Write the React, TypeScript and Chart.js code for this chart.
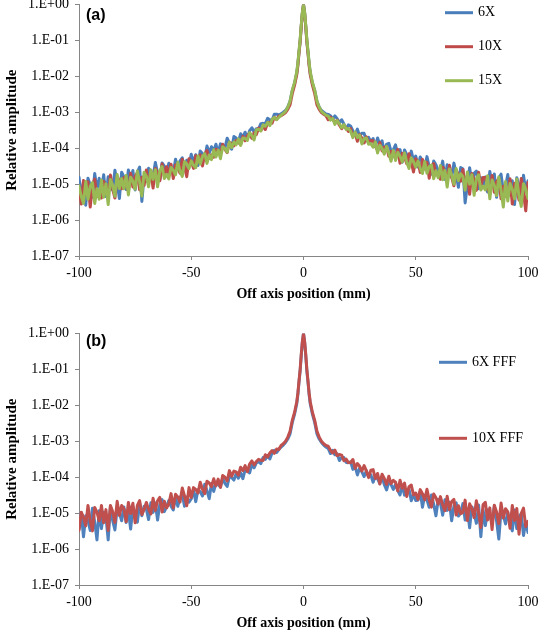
import React, { useEffect, useRef } from "react";
import { Chart, registerables } from "chart.js";

Chart.register(...registerables);

// Off-axis positions (mm), shared by every series
const positions = [
  -100, -99, -98, -97, -96, -95, -94, -93, -92, -91, -90, -89, -88, -87, -86, -85, -84, -83, -82, -81,
  -80, -79, -78, -77, -76, -75, -74, -73, -72, -71, -70, -69, -68, -67, -66, -65, -64, -63, -62, -61,
  -60, -59, -58, -57, -56, -55, -54, -53, -52, -51, -50, -49, -48, -47, -46, -45, -44, -43, -42, -41,
  -40, -39, -38, -37, -36, -35, -34, -33, -32, -31, -30, -29, -28, -27, -26, -25, -24, -23, -22, -21,
  -20, -19, -18, -17, -16, -15, -14, -13, -12, -11,
  -10, -9, -8, -7, -6, -5, -4, -3, -2.5, -2, -1.5, -1, -0.5, 0, 0.5, 1, 1.5, 2, 2.5, 3, 4, 5, 6, 7, 8, 9, 10,
  11, 12, 13, 14, 15, 16, 17, 18, 19, 20, 21, 22, 23, 24, 25, 26, 27, 28, 29, 30,
  31, 32, 33, 34, 35, 36, 37, 38, 39, 40, 41, 42, 43, 44, 45, 46, 47, 48, 49, 50,
  51, 52, 53, 54, 55, 56, 57, 58, 59, 60, 61, 62, 63, 64, 65, 66, 67, 68, 69, 70,
  71, 72, 73, 74, 75, 76, 77, 78, 79, 80, 81, 82, 83, 84, 85, 86, 87, 88, 89, 90,
  91, 92, 93, 94, 95, 96, 97, 98, 99, 100,
];

// Panel (a)
const values6X = [
  15.6e-6, 4.4e-6, 11.1e-6, 2.6e-6, 14.6e-6, 9.4e-6, 4.3e-6, 19.7e-6, 7.1e-6, 14.5e-6,
  7.0e-6, 18.2e-6, 4.5e-6, 16.0e-6, 12.1e-6, 6.8e-6, 24.4e-6, 10.9e-6, 4.0e-6, 21.5e-6,
  15.8e-6, 7.1e-6, 24.7e-6, 12.1e-6, 23.9e-6, 6.9e-6, 21.6e-6, 29.6e-6, 3.3e-6, 16.8e-6,
  11.9e-6, 27.6e-6, 22.7e-6, 15.7e-6, 40.1e-6, 20.4e-6, 13.1e-6, 38.9e-6, 31.6e-6, 22.0e-6,
  38.0e-6, 26.1e-6, 20.6e-6, 49.5e-6, 26.0e-6, 44.3e-6, 54.1e-6, 25.3e-6, 46.2e-6, 32.4e-6,
  67.7e-6, 38.7e-6, 65.7e-6, 32.9e-6, 83.0e-6, 71.2e-6, 51.1e-6, 115e-6, 73.7e-6, 110e-6,
  81.8e-6, 129e-6, 71.8e-6, 132e-6, 124e-6, 100e-6, 190e-6, 139e-6, 93.6e-6, 212e-6,
  193e-6, 152e-6, 251e-6, 203e-6, 278e-6, 185e-6, 306e-6, 369e-6, 282e-6, 349e-6,
  345e-6, 482e-6, 490e-6, 480e-6, 674e-6, 616e-6, 598e-6, 874e-6, 882e-6, 837e-6,
  9.0e-4, 1.0e-3, 1.12e-3, 1.4e-3, 2.0e-3, 4.0e-3, 6.3e-3, 1.25e-2, 2.2e-2, 4.8e-2, 9.6e-2, 2.5e-1, 5.9e-1, 1,
  5.9e-1, 2.5e-1, 9.6e-2, 4.8e-2, 2.2e-2, 1.25e-2, 6.3e-3, 4.0e-3, 2.0e-3, 1.4e-3, 1.12e-3, 1.0e-3, 9.0e-4,
  870e-6, 800e-6, 647e-6, 792e-6, 661e-6, 513e-6, 618e-6, 470e-6, 342e-6, 444e-6,
  414e-6, 301e-6, 243e-6, 339e-6, 221e-6, 260e-6, 259e-6, 161e-6, 200e-6, 151e-6,
  185e-6, 112e-6, 193e-6, 126e-6, 160e-6, 77.9e-6, 127e-6, 137e-6, 81.3e-6, 89.3e-6,
  124e-6, 62.1e-6, 91.4e-6, 40.3e-6, 89.4e-6, 66.1e-6, 41.7e-6, 82.8e-6, 45.9e-6, 60.5e-6,
  30.1e-6, 57.0e-6, 43.7e-6, 29.2e-6, 58.3e-6, 29.8e-6, 19.0e-6, 44.0e-6, 34.5e-6, 23.3e-6,
  22.0e-6, 43.7e-6, 13.5e-6, 34.8e-6, 25.9e-6, 15.3e-6, 38.4e-6, 19.3e-6, 8.2e-6, 28.8e-6,
  26.8e-6, 3.0e-6, 9.9e-6, 28.5e-6, 10.8e-6, 19.9e-6, 23.1e-6, 7.4e-6, 15.1e-6, 8.3e-6,
  15.7e-6, 6.0e-6, 22.5e-6, 9.6e-6, 19.2e-6, 4.3e-6, 14.4e-6, 19.0e-6, 6.5e-6, 8.6e-6,
  18.4e-6, 5.0e-6, 12.4e-6, 2.7e-6, 15.0e-6, 9.2e-6, 4.0e-6, 17.7e-6, 6.2e-6, 12.3e-6,
];

const values10X = [
  7.8e-6, 2.8e-6, 12.6e-6, 5.1e-6, 11.6e-6, 2.3e-6, 9.4e-6, 13.8e-6, 4.5e-6, 6.5e-6,
  4.1e-6, 11.8e-6, 9.0e-6, 5.5e-6, 17.8e-6, 7.3e-6, 4.1e-6, 16.1e-6, 12.2e-6, 7.4e-6,
  15.2e-6, 9.0e-6, 6.5e-6, 20.2e-6, 8.3e-6, 16.4e-6, 20.5e-6, 7.0e-6, 15.5e-6, 9.2e-6,
  24.6e-6, 10.7e-6, 21.1e-6, 7.8e-6, 27.2e-6, 20.5e-6, 12.4e-6, 36.1e-6, 18.2e-6, 30.4e-6,
  18.5e-6, 35.9e-6, 14.3e-6, 34.2e-6, 29.0e-6, 20.2e-6, 49.2e-6, 30.0e-6, 16.1e-6, 50.9e-6,
  42.6e-6, 27.4e-6, 61.6e-6, 41.5e-6, 65.7e-6, 31.9e-6, 67.8e-6, 85.7e-6, 51.8e-6, 65.2e-6,
  56.2e-6, 93.6e-6, 87.2e-6, 72.2e-6, 128e-6, 91.9e-6, 75.2e-6, 146e-6, 136e-6, 116e-6,
  164e-6, 141e-6, 131e-6, 213e-6, 161e-6, 223e-6, 261e-6, 188e-6, 267e-6, 239e-6,
  361e-6, 309e-6, 407e-6, 330e-6, 511e-6, 523e-6, 496e-6, 723e-6, 632e-6, 784e-6,
  8.0e-4, 8.8e-4, 9.8e-4, 1.2e-3, 1.6e-3, 3.3e-3, 5.6e-3, 1.1e-2, 2.0e-2, 4.4e-2, 9.0e-2, 2.4e-1, 5.7e-1, 1,
  5.7e-1, 2.4e-1, 9.0e-2, 4.4e-2, 2.0e-2, 1.1e-2, 5.6e-3, 3.3e-3, 1.6e-3, 1.2e-3, 9.8e-4, 8.8e-4, 8.0e-4,
  620e-6, 732e-6, 630e-6, 519e-6, 600e-6, 433e-6, 347e-6, 426e-6, 364e-6, 292e-6,
  351e-6, 216e-6, 264e-6, 155e-6, 239e-6, 192e-6, 140e-6, 206e-6, 141e-6, 164e-6,
  160e-6, 113e-6, 88.2e-6, 144e-6, 83.8e-6, 107e-6, 110e-6, 59.8e-6, 81.9e-6, 58.5e-6,
  58.3e-6, 92.5e-6, 38.3e-6, 71.8e-6, 56.4e-6, 37.1e-6, 69.9e-6, 41.1e-6, 21.7e-6, 50.5e-6,
  41.5e-6, 21.2e-6, 48.8e-6, 26.4e-6, 40.2e-6, 14.6e-6, 31.9e-6, 37.3e-6, 18.1e-6, 21.2e-6,
  13.6e-6, 29.5e-6, 22.1e-6, 14.4e-6, 33.4e-6, 15.4e-6, 9.0e-6, 24.9e-6, 18.6e-6, 12.0e-6,
  25.4e-6, 8.9e-6, 17.8e-6, 5.2e-6, 19.6e-6, 13.2e-6, 6.7e-6, 21.3e-6, 9.0e-6, 15.2e-6,
  15.4e-6, 8.0e-6, 5.2e-6, 17.3e-6, 5.9e-6, 11.7e-6, 14.1e-6, 3.9e-6, 8.7e-6, 4.6e-6,
  5.2e-6, 14.2e-6, 2.8e-6, 10.6e-6, 7.5e-6, 3.6e-6, 14.3e-6, 5.6e-6, 1.8e-6, 11.0e-6,
];

const values15X = [
  9.0e-6, 4.6e-6, 2.9e-6, 11.8e-6, 3.8e-6, 8.7e-6, 11.0e-6, 2.9e-6, 7.4e-6, 3.8e-6,
  13.0e-6, 4.3e-6, 10.2e-6, 2.7e-6, 13.4e-6, 9.3e-6, 4.6e-6, 18.4e-6, 7.5e-6, 14.2e-6,
  7.4e-6, 17.4e-6, 5.0e-6, 15.5e-6, 12.2e-6, 7.2e-6, 23.0e-6, 11.4e-6, 4.7e-6, 21.5e-6,
  16.5e-6, 8.4e-6, 24.9e-6, 13.6e-6, 25.1e-6, 8.4e-6, 23.5e-6, 30.8e-6, 14.3e-6, 18.8e-6,
  13.9e-6, 29.0e-6, 24.5e-6, 18.2e-6, 40.7e-6, 23.0e-6, 16.4e-6, 42.2e-6, 36.5e-6, 27.1e-6,
  44.4e-6, 33.6e-6, 28.8e-6, 60.8e-6, 36.2e-6, 58.7e-6, 70.2e-6, 37.7e-6, 64.3e-6, 48.2e-6,
  90.6e-6, 57.0e-6, 88.1e-6, 51.0e-6, 109e-6, 98.0e-6, 76.8e-6, 148e-6, 104e-6, 148e-6,
  124e-6, 181e-6, 119e-6, 192e-6, 186e-6, 164e-6, 269e-6, 223e-6, 169e-6, 328e-6,
  336e-6, 301e-6, 446e-6, 406e-6, 522e-6, 424e-6, 623e-6, 726e-6, 618e-6, 713e-6,
  8.3e-4, 9.3e-4, 1.06e-3, 1.38e-3, 2.0e-3, 4.1e-3, 6.7e-3, 1.35e-2, 2.4e-2, 5.2e-2, 1.04e-1, 2.7e-1, 6.1e-1, 1,
  6.1e-1, 2.7e-1, 1.04e-1, 5.2e-2, 2.4e-2, 1.35e-2, 6.7e-3, 4.1e-3, 2.0e-3, 1.38e-3, 1.06e-3, 9.3e-4, 8.3e-4,
  780e-6, 604e-6, 675e-6, 460e-6, 587e-6, 475e-6, 371e-6, 454e-6, 336e-6, 352e-6,
  295e-6, 196e-6, 283e-6, 197e-6, 232e-6, 131e-6, 185e-6, 192e-6, 128e-6, 134e-6,
  107e-6, 150e-6, 73.8e-6, 121e-6, 98.0e-6, 68.1e-6, 112e-6, 72.8e-6, 43.3e-6, 86.4e-6,
  45.6e-6, 76.5e-6, 59.7e-6, 41.7e-6, 74.0e-6, 40.8e-6, 27.2e-6, 53.9e-6, 42.3e-6, 29.6e-6,
  44.1e-6, 27.6e-6, 19.7e-6, 42.6e-6, 20.1e-6, 30.9e-6, 33.8e-6, 14.2e-6, 23.5e-6, 15.0e-6,
  33.0e-6, 13.3e-6, 24.1e-6, 8.3e-6, 26.4e-6, 18.0e-6, 9.9e-6, 27.1e-6, 12.5e-6, 19.5e-6,
  16.3e-6, 6.8e-6, 21.8e-6, 10.0e-6, 18.2e-6, 4.9e-6, 14.1e-6, 18.1e-6, 6.9e-6, 8.8e-6,
  6.9e-6, 17.1e-6, 3.9e-6, 13.0e-6, 9.3e-6, 4.8e-6, 15.9e-6, 6.8e-6, 2.3e-6, 11.8e-6,
  3.4e-6, 10.4e-6, 7.2e-6, 3.9e-6, 13.9e-6, 4.7e-6, 2.4e-6, 10.3e-6, 7.3e-6, 4.0e-6,
];

// Panel (b)
const values6XFFF = [
  3.6e-6, 10.4e-6, 2.2e-6, 8.5e-6, 6.3e-6, 3.3e-6, 13.7e-6, 5.6e-6, 1.8e-6, 11.7e-6,
  3.7e-6, 10.6e-6, 7.9e-6, 1.8e-6, 15.5e-6, 6.2e-6, 3.4e-6, 13.4e-6, 10.1e-6, 6.1e-6,
  14.8e-6, 5.5e-6, 11.6e-6, 3.6e-6, 14.5e-6, 10.3e-6, 5.6e-6, 18.8e-6, 8.5e-6, 15.4e-6,
  13.0e-6, 6.6e-6, 19.3e-6, 10.5e-6, 19.2e-6, 6.4e-6, 17.8e-6, 23.7e-6, 11.0e-6, 14.9e-6,
  22.4e-6, 15.6e-6, 12.3e-6, 29.6e-6, 15.5e-6, 27.2e-6, 33.6e-6, 15.6e-6, 28.2e-6, 20.0e-6,
  25.0e-6, 44.4e-6, 20.9e-6, 44.5e-6, 39.6e-6, 30.0e-6, 63.8e-6, 42.3e-6, 25.2e-6, 66.8e-6,
  40.1e-6, 67.3e-6, 62.5e-6, 53.0e-6, 93.8e-6, 67.3e-6, 55.1e-6, 107e-6, 98.2e-6, 82.8e-6,
  125e-6, 93.2e-6, 132e-6, 90.9e-6, 162e-6, 155e-6, 131e-6, 227e-6, 182e-6, 250e-6,
  271e-6, 239e-6, 350e-6, 314e-6, 402e-6, 321e-6, 473e-6, 561e-6, 486e-6, 586e-6,
  6.9e-4, 7.8e-4, 9.2e-4, 1.15e-3, 1.6e-3, 3.3e-3, 5.6e-3, 1.1e-2, 2.0e-2, 4.4e-2, 9e-2, 2.4e-1, 5.7e-1, 1,
  5.7e-1, 2.4e-1, 9e-2, 4.4e-2, 2.0e-2, 1.1e-2, 5.6e-3, 3.3e-3, 1.6e-3, 1.15e-3, 9.2e-4, 7.8e-4, 6.9e-4,
  628e-6, 454e-6, 561e-6, 420e-6, 444e-6, 291e-6, 354e-6, 350e-6, 256e-6, 253e-6,
  267e-6, 165e-6, 199e-6, 115e-6, 177e-6, 141e-6, 104e-6, 151e-6, 103e-6, 117e-6,
  72.4e-6, 107e-6, 89.3e-6, 66.3e-6, 102e-6, 61.9e-6, 44.0e-6, 75.0e-6, 61.7e-6, 45.8e-6,
  63.3e-6, 42.4e-6, 32.0e-6, 59.9e-6, 31.6e-6, 44.5e-6, 46.9e-6, 22.2e-6, 33.4e-6, 22.4e-6,
  22.8e-6, 39.9e-6, 14.6e-6, 31.4e-6, 23.6e-6, 14.5e-6, 31.8e-6, 17.4e-6, 8.4e-6, 24.0e-6,
  19.0e-6, 8.7e-6, 23.7e-6, 11.9e-6, 20.1e-6, 6.1e-6, 15.6e-6, 19.3e-6, 8.3e-6, 10.2e-6,
  18.4e-6, 6.4e-6, 13.1e-6, 3.9e-6, 14.9e-6, 10.1e-6, 5.2e-6, 16.7e-6, 2.2e-6, 12.3e-6,
  4.5e-6, 12.4e-6, 8.9e-6, 5.1e-6, 15.9e-6, 6.1e-6, 1.9e-6, 11.9e-6, 8.6e-6, 5.0e-6,
  10.4e-6, 5.1e-6, 3.2e-6, 12.2e-6, 3.7e-6, 7.9e-6, 9.6e-6, 2.4e-6, 5.8e-6, 2.9e-6,
];

const values10XFFF = [
  3.3e-6, 10.6e-6, 7.7e-6, 4.4e-6, 16.4e-6, 6.0e-6, 3.2e-6, 14.4e-6, 10.6e-6, 6.1e-6,
  16.4e-6, 5.4e-6, 12.5e-6, 3.3e-6, 16.3e-6, 11.0e-6, 5.5e-6, 21.3e-6, 8.6e-6, 16.3e-6,
  13.2e-6, 5.8e-6, 19.8e-6, 9.7e-6, 18.8e-6, 5.4e-6, 16.5e-6, 22.4e-6, 9.1e-6, 12.6e-6,
  19.7e-6, 12.7e-6, 9.5e-6, 25.9e-6, 11.9e-6, 22.1e-6, 27.3e-6, 10.8e-6, 21.4e-6, 14.0e-6,
  17.8e-6, 34.9e-6, 14.0e-6, 33.4e-6, 28.2e-6, 20.3e-6, 49.9e-6, 30.2e-6, 16.0e-6, 51.2e-6,
  27.3e-6, 51.3e-6, 45.5e-6, 36.1e-6, 72.6e-6, 46.0e-6, 34.7e-6, 77.5e-6, 69.0e-6, 54.5e-6,
  90.0e-6, 57.4e-6, 88.6e-6, 52.0e-6, 111e-6, 100e-6, 78.3e-6, 152e-6, 106e-6, 148e-6,
  141e-6, 113e-6, 189e-6, 153e-6, 209e-6, 141e-6, 232e-6, 284e-6, 220e-6, 273e-6,
  315e-6, 295e-6, 293e-6, 422e-6, 362e-6, 470e-6, 549e-6, 460e-6, 604e-6, 590e-6,
  7.6e-4, 8.5e-4, 1.0e-3, 1.3e-3, 1.9e-3, 3.8e-3, 6.3e-3, 1.25e-2, 2.2e-2, 4.8e-2, 9.8e-2, 2.6e-1, 6e-1, 1,
  6e-1, 2.6e-1, 9.8e-2, 4.8e-2, 2.2e-2, 1.25e-2, 6.3e-3, 3.8e-3, 1.9e-3, 1.3e-3, 1.0e-3, 8.5e-4, 7.6e-4,
  729e-6, 562e-6, 471e-6, 564e-6, 399e-6, 426e-6, 411e-6, 286e-6, 317e-6, 255e-6,
  253e-6, 311e-6, 176e-6, 240e-6, 201e-6, 148e-6, 210e-6, 149e-6, 97.2e-6, 157e-6,
  162e-6, 91.6e-6, 127e-6, 64.9e-6, 121e-6, 92.4e-6, 62.7e-6, 106e-6, 66.1e-6, 81.8e-6,
  72.7e-6, 41.3e-6, 82.2e-6, 49.0e-6, 68.8e-6, 29.0e-6, 54.4e-6, 60.5e-6, 32.2e-6, 36.2e-6,
  24.0e-6, 45.0e-6, 34.8e-6, 23.4e-6, 46.3e-6, 23.0e-6, 14.7e-6, 34.1e-6, 26.6e-6, 17.8e-6,
  28.8e-6, 16.8e-6, 11.7e-6, 29.5e-6, 12.5e-6, 21.0e-6, 24.0e-6, 8.8e-6, 16.1e-6, 9.6e-6,
  10.5e-6, 23.0e-6, 6.2e-6, 18.1e-6, 13.4e-6, 7.5e-6, 22.2e-6, 10.4e-6, 4.0e-6, 17.4e-6,
  20.1e-6, 6.4e-6, 14.0e-6, 3.5e-6, 16.6e-6, 10.8e-6, 5.1e-6, 19.0e-6, 7.3e-6, 13.3e-6,
  10.8e-6, 3.8e-6, 16.2e-6, 6.2e-6, 13.5e-6, 2.6e-6, 9.9e-6, 13.8e-6, 4.2e-6, 5.9e-6,
];

const yTickValues = [1e-7, 1e-6, 1e-5, 1e-4, 1e-3, 1e-2, 1e-1, 1];
const yTickLabels = ["1.E-07", "1.E-06", "1.E-05", "1.E-04", "1.E-03", "1.E-02", "1.E-01", "1.E+00"];
const xTickValues = [-100, -50, 0, 50, 100];
const xTickLabels = ["-100", "-50", "0", "50", "100"];

const SERIF = '"Liberation Serif", "Times New Roman", serif';
const SANS = '"Liberation Sans", Arial, sans-serif';
const AXIS_GRAY = "#868686";

type SeriesDef = { label: string; values: number[]; color: string; order: number };
type PanelDef = {
  tag: string;
  tagY: number;
  series: SeriesDef[];
  legendX: number;
  legendYs: number[];
};

const overlayPlugin = {
  id: "overlay",
  afterDatasetsDraw(chart: any, _args: any, opts: any) {
    const ctx = chart.ctx;
    ctx.save();
    ctx.textBaseline = "middle";
    ctx.textAlign = "left";
    ctx.fillStyle = "#000";
    ctx.font = `bold 16px ${SANS}`;
    ctx.fillText(opts.tag, 86, opts.tagY);
    chart.data.datasets.forEach((ds: any, i: number) => {
      const y = opts.legendYs[i];
      ctx.strokeStyle = ds.borderColor;
      ctx.lineWidth = 3;
      ctx.beginPath();
      ctx.moveTo(opts.legendX, y);
      ctx.lineTo(opts.legendX + 28, y);
      ctx.stroke();
      ctx.font = `14px ${SERIF}`;
      ctx.fillStyle = "#000";
      ctx.fillText(ds.label, opts.legendX + 33, y);
    });
    ctx.restore();
  },
};

function buildChart(canvas: HTMLCanvasElement, panel: PanelDef) {
  return new Chart(canvas, {
    type: "line",
    data: {
      datasets: panel.series.map((s) => ({
        label: s.label,
        data: positions.map((x, i) => ({ x, y: s.values[i] })),
        borderColor: s.color,
        backgroundColor: s.color,
        borderWidth: 3,
        pointRadius: 0,
        tension: 0,
        borderJoinStyle: "round" as const,
        borderCapStyle: "round" as const,
        order: s.order,
      })),
    },
    options: {
      responsive: false,
      devicePixelRatio: 1,
      animation: false,
      layout: { padding: { left: 0, right: 12, top: 13.3, bottom: 0 } },
      plugins: {
        legend: { display: false },
        tooltip: { enabled: false },
        overlay: { tag: panel.tag, tagY: panel.tagY, legendX: panel.legendX, legendYs: panel.legendYs },
      } as any,
      scales: {
        x: {
          type: "linear",
          min: -100,
          max: 100,
          afterBuildTicks: (axis: any) => {
            axis.ticks = xTickValues.map((v) => ({ value: v }));
          },
          afterFit: (axis: any) => {
            axis.height = 54;
            axis.paddingLeft = 0;
            axis.paddingRight = 0;
          },
          ticks: {
            autoSkip: false,
            maxRotation: 0,
            padding: 5,
            color: "#000",
            font: { family: SERIF, size: 14 },
            callback: (_v: any, i: number) => xTickLabels[i],
          },
          grid: { drawOnChartArea: false, drawTicks: true, tickLength: 4, color: AXIS_GRAY },
          border: { display: true, color: AXIS_GRAY, width: 1 },
          title: {
            display: true,
            text: "Off axis position (mm)",
            color: "#000",
            font: { family: SERIF, size: 14, weight: "bold" },
            padding: { top: 0, bottom: 7 },
          },
        },
        y: {
          type: "logarithmic",
          min: 1e-7,
          max: 1,
          afterBuildTicks: (axis: any) => {
            axis.ticks = yTickValues.map((v) => ({ value: v }));
          },
          afterFit: (axis: any) => {
            axis.width = 79;
          },
          ticks: {
            autoSkip: false,
            padding: 6,
            color: "#000",
            font: { family: SERIF, size: 14 },
            callback: (_v: any, i: number) => yTickLabels[i],
          },
          grid: { drawOnChartArea: false, drawTicks: true, tickLength: 4, color: AXIS_GRAY },
          border: { display: true, color: AXIS_GRAY, width: 1 },
          title: {
            display: true,
            text: "Relative amplitude",
            color: "#000",
            font: { family: SERIF, size: 15, weight: "bold" },
            padding: { top: 3, bottom: 0 },
          },
        },
      },
    } as any,
    plugins: [overlayPlugin as any],
  });
}

const panelA: PanelDef = {
  tag: "(a)",
  tagY: 26,
  series: [
    { label: "6X", values: values6X, color: "#4A7EBB", order: 2 },
    { label: "10X", values: values10X, color: "#BE4B48", order: 1 },
    { label: "15X", values: values15X, color: "#98B954", order: 0 },
  ],
  legendX: 445,
  legendYs: [22.7, 56.7, 90.7],
};

const panelB: PanelDef = {
  tag: "(b)",
  tagY: 22.7,
  series: [
    { label: "6X FFF", values: values6XFFF, color: "#4F81BD", order: 1 },
    { label: "10X FFF", values: values10XFFF, color: "#C0504D", order: 0 },
  ],
  legendX: 439,
  legendYs: [43.3, 119.3],
};

export default function App() {
  const refA = useRef<HTMLCanvasElement | null>(null);
  const refB = useRef<HTMLCanvasElement | null>(null);

  useEffect(() => {
    const charts: Chart[] = [];
    if (refA.current) charts.push(buildChart(refA.current, panelA));
    if (refB.current) charts.push(buildChart(refB.current, panelB));
    return () => charts.forEach((c) => c.destroy());
  }, []);

  return (
    <div
      style={{
        position: "absolute",
        left: 0,
        top: 0,
        width: 540,
        height: 631,
        overflow: "hidden",
        background: "#fff",
      }}
    >
      <canvas
        ref={refA}
        width={540}
        height={320}
        style={{ position: "absolute", left: 0, top: -10, width: 540, height: 320 }}
      />
      <canvas
        ref={refB}
        width={540}
        height={320}
        style={{ position: "absolute", left: 0, top: 319, width: 540, height: 320 }}
      />
    </div>
  );
}
